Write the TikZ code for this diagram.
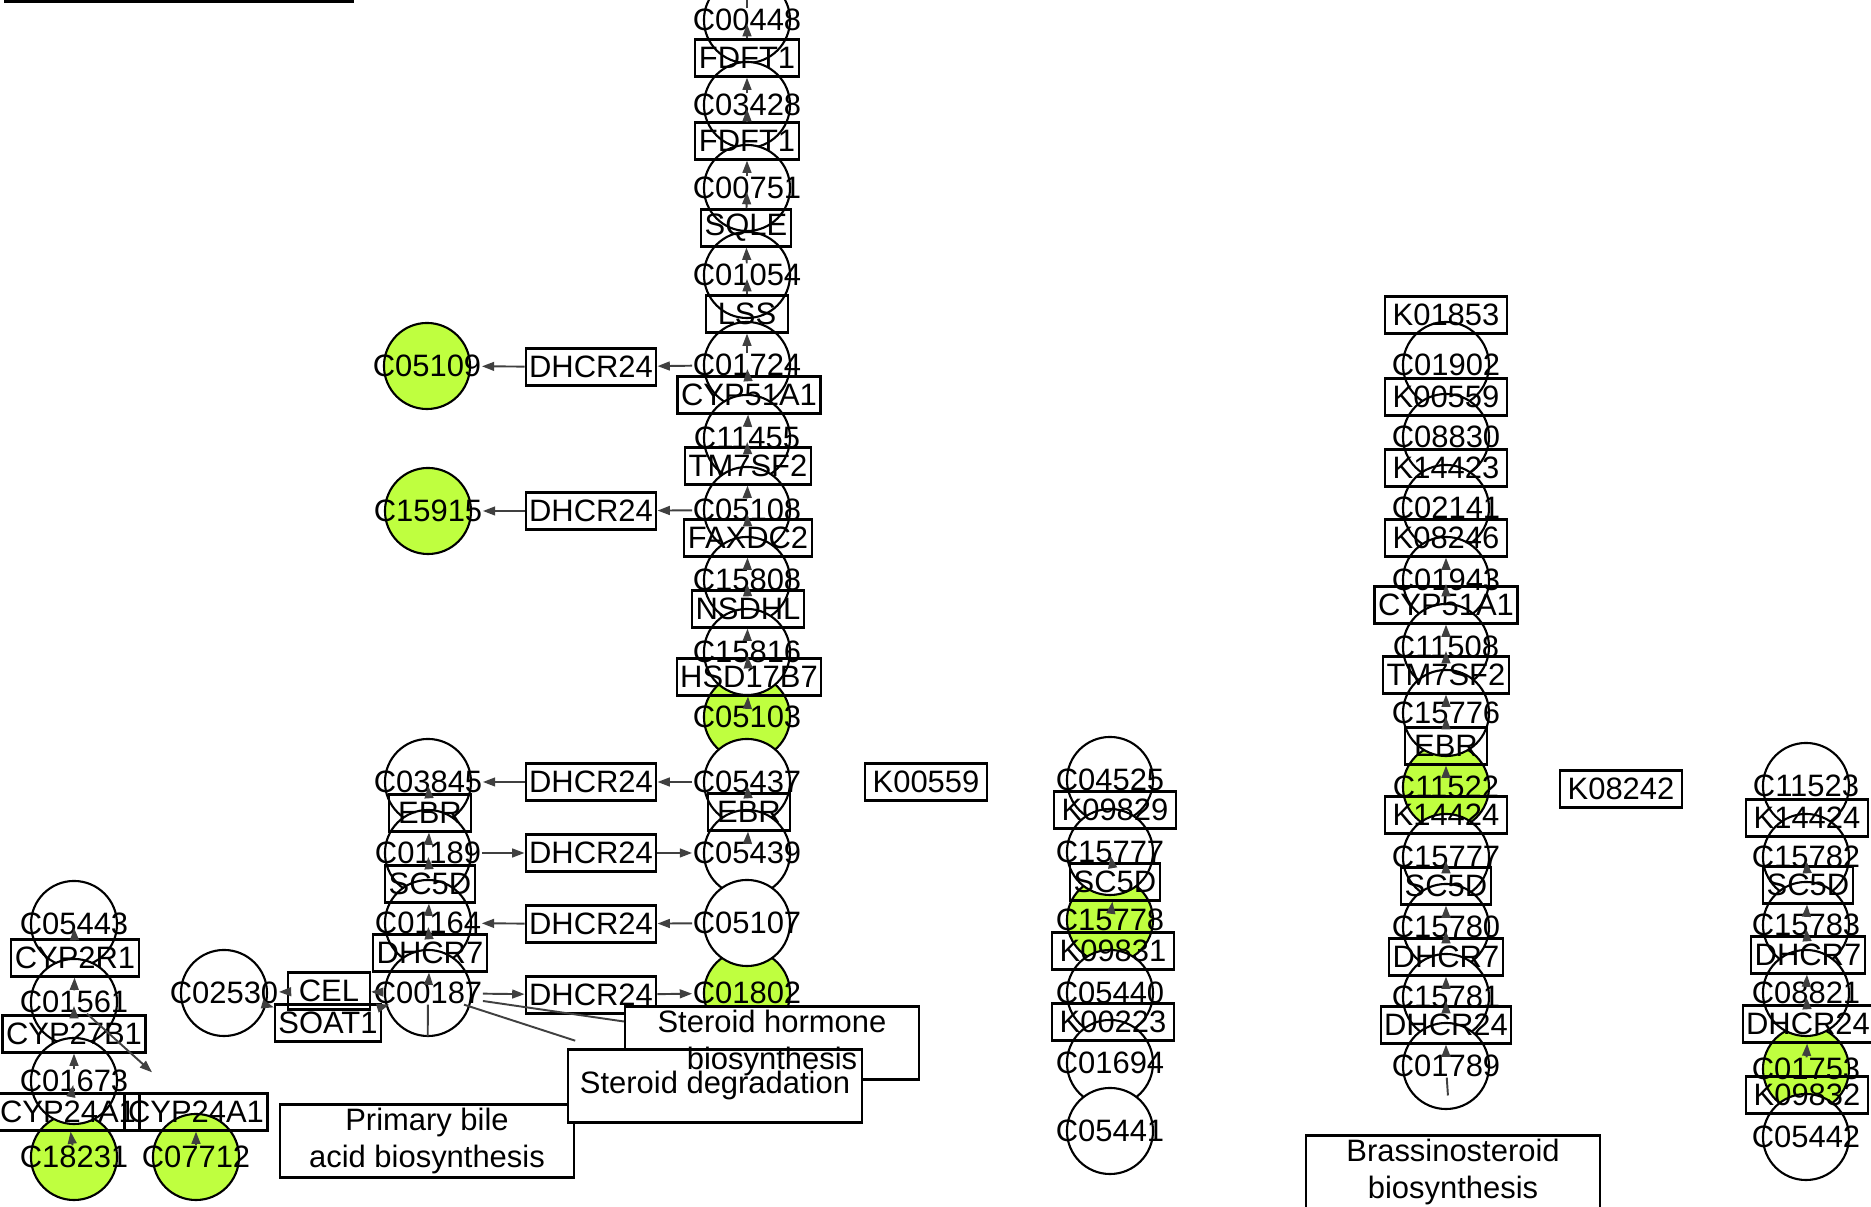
\documentclass[tikz,border=0pt]{standalone}
\usepackage{fontspec}
\setmainfont{Liberation Sans}
\usetikzlibrary{arrows.meta}
\definecolor{hit}{HTML}{BFFF3F}
\definecolor{edgegray}{HTML}{404040}
\tikzset{
  cpd/.style={circle, draw=black, line width=0.6pt, fill=white, minimum size=0.86cm, inner sep=0pt},
  cpdh/.style={cpd, fill=hit},
  gene/.style={rectangle, draw=black, line width=0.6pt, minimum width=0.82cm, minimum height=0.37cm,
    inner xsep=1pt, inner ysep=0pt, font=\fontsize{8.8}{10.5}\selectfont},
  ko/.style={gene, minimum width=1.22cm},
  lbl/.style={inner sep=0pt, font=\fontsize{8.8}{10.5}\selectfont},
  mapbox/.style={rectangle, draw=black, line width=0.6pt, fill=white, minimum width=2.94cm, minimum height=0.73cm},
  maptxt/.style={lbl, align=center},
  flow/.style={-{Triangle[length=3.5pt, width=2.5pt]}, line width=0.55pt, draw=edgegray},
  flowc/.style={flow, shorten >=0.04cm},
  link/.style={line width=0.55pt, draw=edgegray},
}
\begin{document}
\begin{tikzpicture}[x=0.01cm, y=-0.01cm]
  \useasboundingbox (0,0) rectangle (1871,1207);
  \clip (0,0) rectangle (1871,1207);
  \foreach \n/\x/\y in {C05109/427/366, C15915/428/511, C05103/747/717, C01802/747/993,
      C18231/74/1157, C07712/196/1157, C15778/1110/920, C11522/1446/787, C01753/1806/1069}
    \node[cpdh] (\n-o) at (\x,\y) {};
  \foreach \n/\x/\y in {C00448/747/20, C03428/747/105, C00751/747/188, C01054/747/275,
      C01724/747/365, C11455/747/438, C05108/747/510, C15808/747/580, C15816/747/652,
      C05437/747/782, C05439/747/853, C05107/747/923, C03845/428/782, C01189/428/853,
      C01164/428/923, C00187/428/993, C02530/224/993, C05443/74/924, C01561/74/1002,
      C01673/74/1081, C04525/1110/780, C15777/1110/852, C05440/1110/993, C01694/1110/1063,
      C05441/1110/1131, C01902/1446/365, C08830/1446/437, C02141/1446/508, C01943/1446/580,
      C11508/1446/647, C15776/1446/713, C15777b/1446/857, C15780/1446/927, C15781/1446/997,
      C01789/1446/1066, C11523/1806/786, C15782/1806/857, C15783/1806/925, C08821/1806/993,
      C05442/1806/1137}
    \node[cpd] (\n-o) at (\x,\y) {};

  \node[gene] (FDFT1a) at (747,58) {FDFT1};
  \node[gene] (FDFT1b) at (747,141) {FDFT1};
  \node[gene] (SQLE) at (746,228) {SQLE};
  \node[gene] (LSS) at (747,314) {LSS};
  \node[gene] (CYP51A1a) at (749,395) {CYP51A1};
  \node[gene] (TM7SF2a) at (748,466) {TM7SF2};
  \node[gene] (FAXDC2) at (748,538) {FAXDC2};
  \node[gene] (NSDHL) at (748,609) {NSDHL};
  \node[gene] (HSD17B7) at (749,677) {HSD17B7};
  \node[gene] (EBRa) at (749,812) {EBR};
  \node[gene] (DHCR24a) at (591,367) {DHCR24};
  \node[gene] (DHCR24b) at (591,511) {DHCR24};
  \node[gene] (DHCR24c) at (591,782) {DHCR24};
  \node[gene] (DHCR24d) at (591,853) {DHCR24};
  \node[gene] (DHCR24e) at (591,924) {DHCR24};
  \node[gene] (DHCR24f) at (591,995) {DHCR24};
  \node[gene] (EBRb) at (430,813) {EBR};
  \node[gene] (SC5Da) at (430,884) {SC5D};
  \node[gene] (DHCR7a) at (430,953) {DHCR7};
  \node[gene] (CEL) at (329,991) {CEL};
  \node[gene] (SOAT1) at (328,1023) {SOAT1};
  \node[gene] (CYP2R1) at (75,958) {CYP2R1};
  \node[gene] (CYP27B1) at (74,1034) {CYP27B1};
  \node[gene] (CYP24A1a) at (68,1112) {CYP24A1};
  \node[gene] (CYP24A1b) at (196,1112) {CYP24A1};
  \node[ko] (K00559a) at (926,782) {K00559};
  \node[ko] (K09829) at (1115,810) {K09829};
  \node[gene] (SC5Db) at (1115,882) {SC5D};
  \node[ko] (K09831) at (1113,951) {K09831};
  \node[ko] (K00223) at (1113,1022) {K00223};
  \node[ko] (K01853) at (1446,315) {K01853};
  \node[ko] (K00559b) at (1446,397) {K00559};
  \node[ko] (K14423) at (1446,468) {K14423};
  \node[ko] (K08246) at (1446,538) {K08246};
  \node[gene] (CYP51A1b) at (1446,605) {CYP51A1};
  \node[gene] (TM7SF2b) at (1446,675) {TM7SF2};
  \node[gene] (EBRc) at (1446,746) {EBR};
  \node[ko] (K14424a) at (1446,815) {K14424};
  \node[gene] (SC5Dc) at (1446,886) {SC5D};
  \node[gene] (DHCR7b) at (1446,957) {DHCR7};
  \node[gene] (DHCR24g) at (1446,1025) {DHCR24};
  \node[ko] (K08242) at (1621,789) {K08242};
  \node[ko] (K14424b) at (1807,818) {K14424};
  \node[gene] (SC5Dd) at (1808,885) {SC5D};
  \node[gene] (DHCR7c) at (1808,955) {DHCR7};
  \node[gene] (DHCR24h) at (1808,1024) {DHCR24};
  \node[ko] (K09832) at (1807,1095) {K09832};

  \foreach \n in {C05109, C15915, C05103, C01802, C18231, C07712, C15778, C11522, C01753,
      C00448, C03428, C00751, C01054, C01724, C11455, C05108, C15808, C15816, C05437, C05439,
      C05107, C03845, C01189, C01164, C00187, C02530, C05443, C01561, C01673, C04525, C15777,
      C05440, C01694, C05441, C01902, C08830, C02141, C01943, C11508, C15776, C15780, C15781,
      C01789, C11523, C15782, C15783, C08821, C05442}
    \node[lbl] (\n) at (\n-o) {\n};
  \node[lbl] (C15777b) at (C15777b-o) {C15777};

  \node[mapbox, minimum width=3.48cm] (topmap) at (179,-35) {};
  \node[mapbox] (bile) at (427,1141) {};
  \node[mapbox] (hormone) at (772,1043) {};
  \node[mapbox] (degrad) at (715,1086) {};
  \node[mapbox] (brass) at (1453,1172) {};
  \node[maptxt] (bile-t) at (bile) {Primary bile\\acid biosynthesis};
  \node[maptxt] (hormone-t) at (hormone) {Steroid hormone\\biosynthesis};
  \node[maptxt] (degrad-t) at (degrad) {Steroid degradation};
  \node[maptxt] (brass-t) at (brass) {Brassinosteroid\\biosynthesis};

  \coordinate (offtop) at (747,-60);
  \foreach \a/\b in {C05103/HSD17B7, C15816/NSDHL, C15808/FAXDC2, C05108/TM7SF2a,
      C11455/CYP51A1a, C01724/LSS, C01054/SQLE, C00751/FDFT1b, C03428/FDFT1a, C00448/offtop,
      C05439/EBRa, C00187/DHCR7a, C01164/SC5Da, C01189/EBRb, C18231/CYP24A1a, C01673/CYP27B1,
      C01561/CYP2R1, C07712/CYP24A1b, C15778/SC5Db, C01789/DHCR24g, C15781/DHCR7b,
      C15780/SC5Dc, C11522/EBRc, C15776/TM7SF2b, C11508/CYP51A1b, C01943/K08246,
      C01753/DHCR24h, C08821/DHCR7c, C15783/SC5Dd,
      C01724/DHCR24a, DHCR24a/C05109, C05108/DHCR24b, DHCR24b/C15915, C05437/DHCR24c,
      DHCR24c/C03845, C01189/DHCR24d, DHCR24d/C05439, C05107/DHCR24e, DHCR24e/C01164,
      C00187/DHCR24f, DHCR24f/C01802, C00187/CEL, CEL/C02530, C02530/SOAT1, SOAT1/C00187}
    \draw[flow] (\a) -- (\b);
  \foreach \a/\b in {HSD17B7/C15816, NSDHL/C15808, FAXDC2/C05108, TM7SF2a/C11455,
      CYP51A1a/C01724, LSS/C01054, SQLE/C00751, FDFT1b/C03428, FDFT1a/C00448, EBRa/C05437,
      DHCR7a/C01164, SC5Da/C01189, EBRb/C03845, CYP24A1a/C01673, CYP27B1/C01561,
      CYP2R1/C05443, SC5Db/C15777, DHCR24g/C15781, DHCR7b/C15780, SC5Dc/C15777b,
      EBRc/C15776, TM7SF2b/C11508, CYP51A1b/C01943, DHCR24h/C08821, DHCR7c/C15783,
      SC5Dd/C15782}
    \draw[flowc] (\a) -- (\b.center);
  \draw[flow, shorten >=0.3cm] (C01561) -- (CYP24A1b);
  \draw[link] (C00187) -- (hormone);
  \draw[link, shorten >=0.25cm] (C00187) -- (degrad);
  \draw[link, shorten >=0.67cm] (C00187) -- (bile);
  \draw[link, shorten >=0.39cm] (C01789) -- (brass);
\end{tikzpicture}
\end{document}
